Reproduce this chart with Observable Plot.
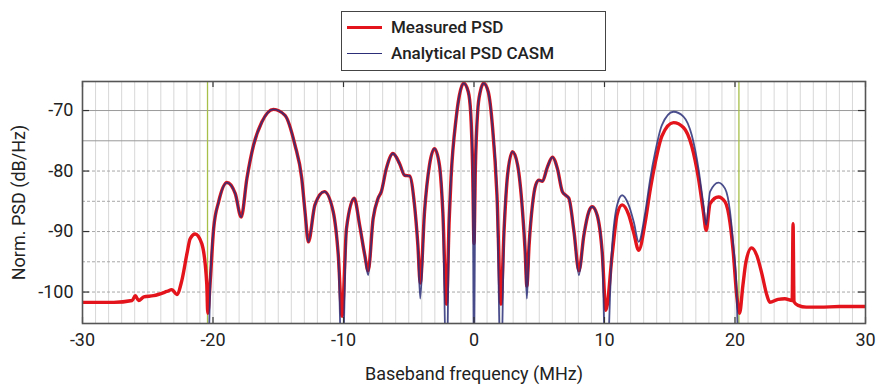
<!DOCTYPE html>
<html>
<head>
<meta charset="utf-8">
<script src="https://cdn.jsdelivr.net/npm/d3@7"></script>
<script src="https://cdn.jsdelivr.net/npm/@observablehq/plot@0.6"></script>
<style>
  html, body { margin: 0; padding: 0; background: #fff; }
  #wrap { position: relative; width: 887px; height: 385px; font-family: Roboto, "Liberation Sans", sans-serif; }
  #chart { position: absolute; left: 0; top: 0; }
  #legend { position: absolute; left: 341px; top: 11px; width: 263px; height: 58px; border: 1.5px solid #444; background: #fff; }
  .sw { position: absolute; left: 5px; width: 35px; }
  .lt { position: absolute; left: 49px; font-size: 17px; line-height: 17px; font-weight: 500; color: #222; white-space: nowrap; }
</style>
</head>
<body>
<div id="wrap">
  <div id="chart"></div>
  <div id="legend"></div>
</div>
<script>
// ---- data ----
const seriesNames = ["Measured PSD", "Analytical PSD CASM"];
const seriesColors = ["#e3141b", "#2c2f78"];

const analyticFreq = [
  -20.4, -20.2, -19.95, -19.57, -18.93, -18.3, -17.84, -17.4, -16.89, -16.26, -15.37, -14.48, -13.72, -13.2, -12.95, -12.69,
  -12.19, -11.47, -10.79, -10.4, -10.11, -9.77, -9.18, -8.76, -8.37, -8.11, -7.73, -7.35, -7.1, -6.72, -6.21, -5.7, -5.32,
  -4.94, -4.56, -4.3, -4.12, -3.79, -3.41, -3.03, -2.65, -2.39, -2.11, -1.9, -1.76, -1.37, -1.12, -0.79, -0.44, -0.25, -0.1,
  0, 0.1, 0.28, 0.48, 0.74, 1.09, 1.43, 1.76, 2.06, 2.31, 2.57, 2.95, 3.34, 3.72, 3.92, 4.05, 4.22, 4.48, 4.73, 4.98, 5.24,
  5.63, 6.01, 6.39, 6.77, 7.02, 7.27, 7.66, 8.04, 8.42, 8.8, 9.06, 9.44, 9.82, 10.11, 10.59, 10.97, 11.35, 11.85, 12.24,
  12.62, 13.13, 13.51, 13.89, 14.4, 15.29, 16.05, 16.69, 17.2, 17.58, 17.79, 18.09, 18.73, 19.24, 19.62, 19.87, 20.13, 20.3
];
const analyticPSD = [
  -115, -97.8, -89.5, -85.1, -81.9, -83.7, -87.6, -81.2, -75.7, -71.9, -69.8, -70.8, -75.7, -81.2, -86.7, -91.7,
  -85.6, -83.4, -86.7, -93.9, -115, -89.5, -84.5, -89.0, -93.9, -97.2, -87.9, -84.5, -83.4, -79.6, -77.1, -78.8, -80.7,
  -80.8, -85.6, -92.3, -101.1, -86.7, -79.0, -76.3, -79.0, -86.7, -115, -88, -81.2, -71.3, -67.5, -65.5, -66.9, -70.5, -80,
  -115, -80, -70.2, -66.9, -65.5, -66.9, -73.0, -84.0, -115, -89.5, -80.7, -76.8, -79.0, -86.7, -93.3, -101.1, -92.3, -85.6, -82.3, -81.5, -81.7,
  -79.3, -77.7, -79.6, -83.4, -84.0, -84.5, -90.0, -97.2, -90.6, -86.7, -85.9, -87.3, -93.3, -115, -92.3, -85.6, -84.0, -85.6, -88.4,
  -91.7, -86.7, -81.2, -76.8, -72.4, -70.2, -71.0, -74.1, -79.6, -85.6, -88.9, -83.4, -81.9, -82.9, -86.7, -92.3, -100.0, -115
];

const measuredFreq = [
  -30, -27.6, -26.2, -25.95, -25.7, -25.3, -24.55, -23.53, -23.15, -22.77, -22.39, -22.0, -21.75, -21.37, -20.86, -20.48, -20.4,
  -20.2, -19.95, -19.57, -18.93, -18.3, -17.84, -17.4, -16.89, -16.26, -15.37, -14.48, -13.72, -13.2, -12.95, -12.69,
  -12.19, -11.47, -10.79, -10.4, -10.11, -9.77, -9.18, -8.76, -8.37, -8.11, -7.73, -7.35, -7.1, -6.72, -6.21, -5.7, -5.32,
  -4.94, -4.56, -4.3, -4.12, -3.79, -3.41, -3.03, -2.65, -2.39, -2.11, -1.9, -1.76, -1.37, -1.12, -0.79, -0.44, -0.25, -0.1,
  0, 0.1, 0.28, 0.48, 0.74, 1.09, 1.43, 1.76, 2.06, 2.31, 2.57, 2.95, 3.34, 3.72, 3.92, 4.05, 4.22, 4.48, 4.73, 4.98, 5.24,
  5.63, 6.01, 6.39, 6.77, 7.02, 7.27, 7.66, 8.04, 8.42, 8.8, 9.06, 9.44, 9.82, 10.11, 10.59, 10.97, 11.35, 11.85, 12.24,
  12.62, 13.13, 13.51, 13.89, 14.4, 15.29, 16.05, 16.69, 17.2, 17.58, 17.79, 18.09, 18.73, 19.24, 19.62, 19.87, 20.13, 20.35,
  20.6, 20.84, 21.27, 21.68, 22.06, 22.44, 22.67, 23.3, 23.82, 24.38, 24.45, 24.52, 24.83, 25.47, 26.5, 28, 30
];
const measuredPSD = [
  -101.7, -101.7, -101.4, -100.6, -101.4, -100.8, -100.6, -99.9, -99.6, -100.4, -98.1, -93.7, -91.2, -90.4, -92.0, -98.6, -103.5,
  -97.8, -89.5, -85.1, -81.9, -83.7, -87.6, -81.2, -75.7, -71.9, -69.8, -70.8, -75.7, -81.2, -86.7, -91.7,
  -85.6, -83.4, -86.7, -93.9, -104, -89.5, -84.5, -89.0, -93.9, -96.5, -87.9, -84.5, -83.4, -79.6, -77.1, -78.8, -80.7,
  -80.8, -85.6, -92.3, -98.5, -86.7, -79.0, -76.3, -79.0, -86.7, -102, -88, -81.2, -71.3, -67.5, -65.5, -66.9, -70.5, -80,
  -92, -80, -70.2, -66.9, -65.5, -66.9, -73.0, -84.0, -102, -89.5, -80.7, -76.8, -79.0, -86.7, -93.3, -99, -92.3, -85.6, -82.3, -81.5, -81.7,
  -79.3, -77.7, -79.6, -83.4, -84.0, -84.5, -90.0, -96.5, -90.6, -86.7, -85.9, -87.3, -93.3, -103, -93.8, -87.2, -85.6, -87.2, -90.2,
  -93.1, -88.3, -83.0, -78.6, -74.2, -72.0, -72.8, -75.9, -81.2, -86.8, -89.8, -85.4, -84.3, -85.1, -88.6, -93.5, -100.5, -103.5,
  -99.0, -95.0, -92.7, -94.0, -97.0, -100.5, -101.7, -101.2, -101.1, -101.4, -88.7, -101.6, -102.2, -102.5, -102.5, -102.4, -102.4
];

const bandEdges = [-20.42, 20.3];
const xTicks = [-30, -20, -10, 0, 10, 20, 30];
const yTicks = [-100, -90, -80, -70];
const yGridSolid = [-70, -75];
const yGridDashed = [-80, -85, -90, -95, -100];
const xGrid = d3.range(-29, 30, 1);

// ---- build tables ----
const analytic = analyticFreq.map((f, i) => ({ f, v: analyticPSD[i] }));
const measured = measuredFreq.map((f, i) => ({ f, v: measuredPSD[i] }));

const font = "Roboto, 'Liberation Sans', sans-serif";
const fmt = d => d < 0 ? "-" + Math.abs(d) : String(d);

const chart = Plot.plot({
  width: 887,
  height: 385,
  marginTop: 81,
  marginBottom: 62,
  marginLeft: 82,
  marginRight: 22,
  x: { domain: [-30, 30] },
  y: { domain: [-105.2, -65.2] },
  style: { fontFamily: font, fontSize: "18px", color: "#222", background: "#fff" },
  marks: [
    Plot.ruleX(xGrid, { x: d => d, stroke: "#cdcdcd", strokeWidth: 0.8 }),
    Plot.ruleY(yGridSolid, { y: d => d, stroke: "#9a9a9a", strokeWidth: 1 }),
    Plot.ruleY(yGridDashed, { y: d => d, stroke: "#a8a8a8", strokeWidth: 1, strokeDasharray: "3,2" }),
    Plot.ruleX(bandEdges, { x: d => d, stroke: "#a6c04a", strokeWidth: 1.3 }),
    Plot.line(measured, { x: "f", y: "v", stroke: seriesColors[0], strokeWidth: 3.4, curve: "monotone-x", clip: true }),
    Plot.line(analytic, { x: "f", y: "v", stroke: seriesColors[1], strokeWidth: 1.8, strokeOpacity: 0.85, curve: "monotone-x", clip: true }),
    Plot.tickX(xTicks, { x: d => d, insetTop: 236, stroke: "#333", strokeWidth: 1.2 }),
    Plot.tickX(xTicks, { x: d => d, insetBottom: 236, stroke: "#333", strokeWidth: 1.2 }),
    Plot.tickY(yTicks, { y: d => d, insetRight: 776, stroke: "#333", strokeWidth: 1.2 }),
    Plot.tickY(yTicks, { y: d => d, insetLeft: 776, stroke: "#333", strokeWidth: 1.2 }),
    Plot.axisX({ ticks: xTicks, tickSize: 0, tickPadding: 10, label: null, tickFormat: fmt, fontSize: 18 }),
    Plot.axisY({ ticks: yTicks, tickSize: 0, tickPadding: 9, label: null, tickFormat: fmt, fontSize: 18 }),
    Plot.frame({ stroke: "#555", strokeWidth: 1.6 }),
    Plot.text(["Baseband frequency (MHz)"], { frameAnchor: "bottom", dy: 51, lineAnchor: "middle", textAnchor: "middle", text: d => d, fontSize: 18, fill: "#222" }),
    Plot.text(["Norm. PSD (dB/Hz)"], { frameAnchor: "left", dx: -63, rotate: -90, lineAnchor: "middle", textAnchor: "middle", text: d => d, fontSize: 18, fill: "#222" })
  ]
});
document.getElementById("chart").appendChild(chart);

// ---- legend ----
const legend = document.getElementById("legend");
const swTops = [14, 41];
const swHeights = [3, 1.3];
const txtTops = [7, 33];
seriesNames.forEach((name, i) => {
  const sw = document.createElement("div");
  sw.className = "sw";
  sw.style.top = swTops[i] + "px";
  sw.style.height = swHeights[i] + "px";
  sw.style.background = seriesColors[i];
  legend.appendChild(sw);
  const t = document.createElement("div");
  t.className = "lt";
  t.style.top = txtTops[i] + "px";
  t.textContent = name;
  legend.appendChild(t);
});
</script>
</body>
</html>
